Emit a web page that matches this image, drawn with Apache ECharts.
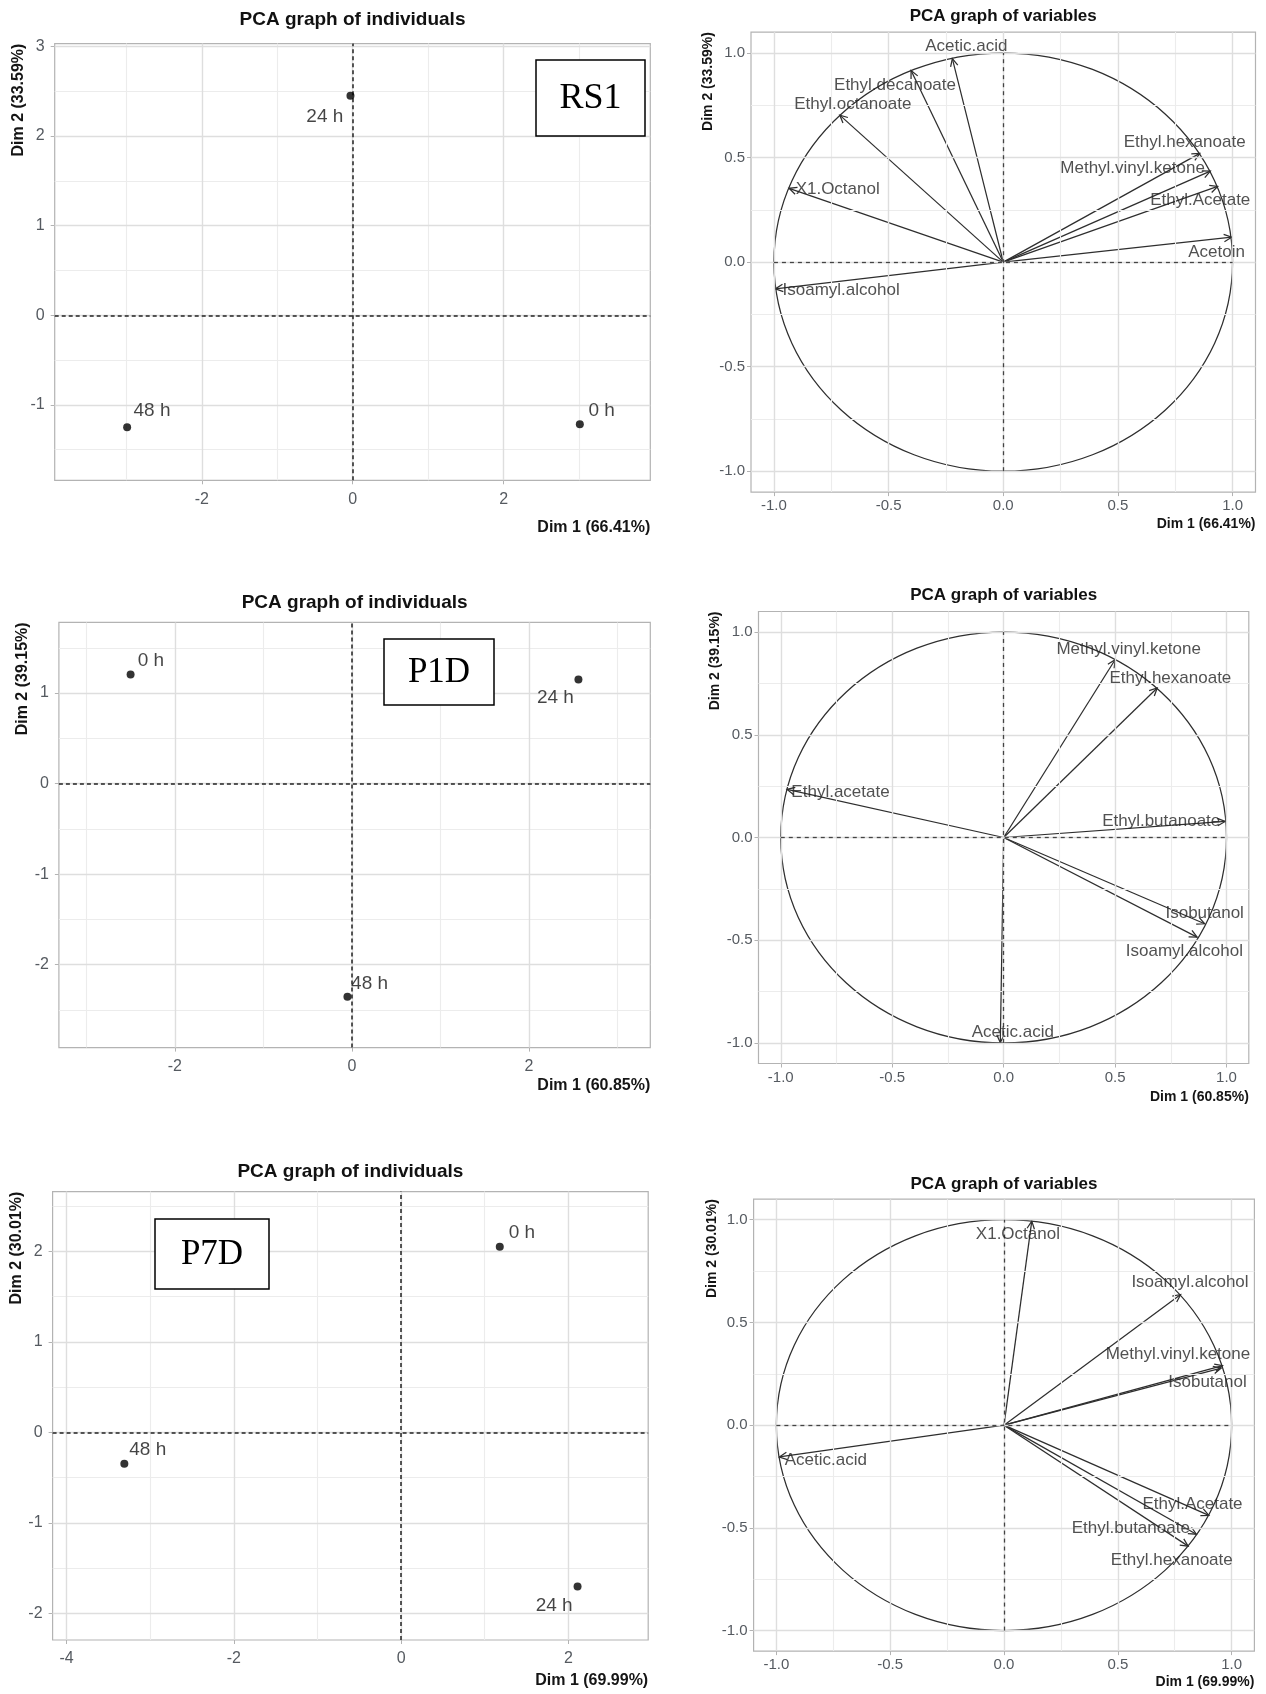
<!DOCTYPE html>
<html>
<head>
<meta charset="utf-8">
<script src="https://cdn.jsdelivr.net/npm/echarts@6/dist/echarts.min.js"></script>
<style>
html,body{margin:0;padding:0;background:#fff;}
#c{width:1266px;height:1694px;}
</style>
</head>
<body>
<div id="c"></div>
<script>
// ---------------- DATA ----------------
const indTitle = 'PCA graph of individuals';
const varTitle = 'PCA graph of variables';
const panelTags = ['RS1', 'P1D', 'P7D'];
const corrCircle = [0, 0, 1]; // centre dim1, centre dim2, radius

// RS1
const rs1Dims = ['Dim 1 (66.41%)', 'Dim 2 (33.59%)'];
const rs1IndNames = ['0 h', '24 h', '48 h'];
const rs1IndDim1 = [3.01, -0.03, -2.99];
const rs1IndDim2 = [-1.215, 2.45, -1.25];
const rs1IndLabelDim1 = [3.30, -0.37, -2.66];
const rs1IndLabelDim2 = [-1.07, 2.21, -1.07];
const rs1IndXTicks = [-2, 0, 2];
const rs1IndXMinor = [-3, -1, 1, 3];
const rs1IndYTicks = [-1, 0, 1, 2, 3];
const rs1IndYMinor = [-1.5, -0.5, 0.5, 1.5, 2.5];
const rs1VarNames = ['Acetic.acid', 'Ethyl.decanoate', 'Ethyl.octanoate', 'X1.Octanol', 'Isoamyl.alcohol', 'Ethyl.hexanoate', 'Methyl.vinyl.ketone', 'Ethyl.Acetate', 'Acetoin'];
const rs1VarDim1 = [-0.222, -0.402, -0.713, -0.934, -0.994, 0.857, 0.903, 0.935, 0.996];
const rs1VarDim2 = [0.973, 0.916, 0.703, 0.353, -0.128, 0.520, 0.435, 0.362, 0.119];
const rs1VarLabelDim1 = [-0.161, -0.472, -0.656, -0.722, -0.707, 0.791, 0.564, 0.859, 0.930];
const rs1VarLabelDim2 = [1.033, 0.846, 0.756, 0.349, -0.137, 0.573, 0.447, 0.294, 0.049];

// P1D
const p1dDims = ['Dim 1 (60.85%)', 'Dim 2 (39.15%)'];
const p1dIndNames = ['0 h', '24 h', '48 h'];
const p1dIndDim1 = [-2.50, 2.56, -0.05];
const p1dIndDim2 = [1.205, 1.15, -2.355];
const p1dIndLabelDim1 = [-2.27, 2.30, 0.20];
const p1dIndLabelDim2 = [1.357, 0.943, -2.207];
const p1dIndXTicks = [-2, 0, 2];
const p1dIndXMinor = [-3, -1, 1, 3];
const p1dIndYTicks = [-2, -1, 0, 1];
const p1dIndYMinor = [-2.5, -1.5, -0.5, 0.5, 1.5];
const p1dVarNames = ['Methyl.vinyl.ketone', 'Ethyl.hexanoate', 'Ethyl.acetate', 'Ethyl.butanoate', 'Isobutanol', 'Isoamyl.alcohol', 'Acetic.acid'];
const p1dVarDim1 = [0.500, 0.689, -0.972, 0.994, 0.902, 0.868, -0.015];
const p1dVarDim2 = [0.865, 0.728, 0.234, 0.078, -0.420, -0.485, -0.998];
const p1dVarLabelDim1 = [0.561, 0.748, -0.732, 0.707, 0.902, 0.811, 0.041];
const p1dVarLabelDim2 = [0.918, 0.776, 0.222, 0.077, -0.371, -0.554, -0.950];

// P7D
const p7dDims = ['Dim 1 (69.99%)', 'Dim 2 (30.01%)'];
const p7dIndNames = ['0 h', '24 h', '48 h'];
const p7dIndDim1 = [1.18, 2.11, -3.31];
const p7dIndDim2 = [2.05, -1.70, -0.345];
const p7dIndLabelDim1 = [1.445, 1.83, -3.03];
const p7dIndLabelDim2 = [2.20, -1.917, -0.19];
const p7dIndXTicks = [-4, -2, 0, 2];
const p7dIndXMinor = [-3, -1, 1];
const p7dIndYTicks = [-2, -1, 0, 1, 2];
const p7dIndYMinor = [-1.5, -0.5, 0.5, 1.5, 2.5];
const p7dVarNames = ['X1.Octanol', 'Isoamyl.alcohol', 'Methyl.vinyl.ketone', 'Isobutanol', 'Acetic.acid', 'Ethyl.Acetate', 'Ethyl.butanoate', 'Ethyl.hexanoate'];
const p7dVarDim1 = [0.122, 0.776, 0.960, 0.954, -0.987, 0.900, 0.845, 0.809];
const p7dVarDim2 = [0.993, 0.636, 0.290, 0.278, -0.155, -0.439, -0.531, -0.589];
const p7dVarLabelDim1 = [0.061, 0.817, 0.764, 0.894, -0.783, 0.828, 0.557, 0.737];
const p7dVarLabelDim2 = [0.929, 0.693, 0.347, 0.207, -0.169, -0.385, -0.500, -0.658];

// variable-plot axes (shared)
const varTicks = [-1, -0.5, 0, 0.5, 1];
const varMinor = [-0.75, -0.25, 0.25, 0.75];

// ---------------- LAYOUT / STYLE ----------------
const SANS = '"Liberation Sans", Arial, sans-serif';
const SERIF = '"Liberation Serif", "Times New Roman", serif';
const GRID_MAJOR = '#dedede';
const GRID_MINOR = '#ececec';
const BORDER = '#b3b3b3';
const TICK_TXT = '#555a60';
const INK = '#151515';
const LINE_INK = '#2e2e2e';

const panels = [
  { kind: 'ind', box: [54.7, 43.6, 650.3, 480.3], x: [-3.95, 3.944], y: [-1.841, 3.032],
    xt: rs1IndXTicks, xm: rs1IndXMinor, yt: rs1IndYTicks, ym: rs1IndYMinor, dims: rs1Dims,
    names: rs1IndNames, d1: rs1IndDim1, d2: rs1IndDim2, l1: rs1IndLabelDim1, l2: rs1IndLabelDim2,
    titleGap: 23.6, dimXGap: 47.7, dimYGap: 35.7, tag: 0, tagBox: [536, 60, 109, 76], tagSize: 36 },
  { kind: 'var', box: [751, 32.1, 1255.5, 492.1], x: [-1.1, 1.1], y: [-1.1, 1.1],
    xt: varTicks, xm: varMinor, yt: varTicks, ym: varMinor, dims: rs1Dims,
    names: rs1VarNames, d1: rs1VarDim1, d2: rs1VarDim2, l1: rs1VarLabelDim1, l2: rs1VarLabelDim2,
    titleGap: 16, dimXGap: 32, dimYGap: 43 },
  { kind: 'ind', box: [58.9, 622.4, 650.3, 1047.6], x: [-3.31, 3.372], y: [-2.916, 1.78],
    xt: p1dIndXTicks, xm: p1dIndXMinor, yt: p1dIndYTicks, ym: p1dIndYMinor, dims: p1dDims,
    names: p1dIndNames, d1: p1dIndDim1, d2: p1dIndDim2, l1: p1dIndLabelDim1, l2: p1dIndLabelDim2,
    titleGap: 19.4, dimXGap: 38.4, dimYGap: 36, tag: 1, tagBox: [384, 639, 110, 66], tagSize: 35 },
  { kind: 'var', box: [758.5, 611.5, 1248.8, 1063.5], x: [-1.1, 1.1], y: [-1.1, 1.1],
    xt: varTicks, xm: varMinor, yt: varTicks, ym: varMinor, dims: p1dDims,
    names: p1dVarNames, d1: p1dVarDim1, d2: p1dVarDim2, l1: p1dVarLabelDim1, l2: p1dVarLabelDim2,
    titleGap: 16.5, dimXGap: 33.5, dimYGap: 43 },
  { kind: 'ind', box: [52.6, 1191.6, 648.2, 1640], x: [-4.168, 2.955], y: [-2.292, 2.66],
    xt: p7dIndXTicks, xm: p7dIndXMinor, yt: p7dIndYTicks, ym: p7dIndYMinor, dims: p7dDims,
    names: p7dIndNames, d1: p7dIndDim1, d2: p7dIndDim2, l1: p7dIndLabelDim1, l2: p7dIndLabelDim2,
    titleGap: 20, dimXGap: 41, dimYGap: 35.6, tag: 2, tagBox: [155, 1219, 114, 70], tagSize: 35 },
  { kind: 'var', box: [753.6, 1199.2, 1254.4, 1651.1], x: [-1.1, 1.1], y: [-1.1, 1.1],
    xt: varTicks, xm: varMinor, yt: varTicks, ym: varMinor, dims: p7dDims,
    names: p7dVarNames, d1: p7dVarDim1, d2: p7dVarDim2, l1: p7dVarLabelDim1, l2: p7dVarLabelDim2,
    titleGap: 14.7, dimXGap: 31, dimYGap: 41.6 }
];

// ---------------- BUILD ----------------
const chart = echarts.init(document.getElementById('c'), null, { renderer: 'canvas', width: 1266, height: 1694 });

const option = {
  animation: false,
  backgroundColor: '#ffffff',
  grid: [], xAxis: [], yAxis: [], series: [],
  graphic: { elements: [] }
};

function txt(x, y, text, st, extra) {
  const style = Object.assign({
    text: text, fill: INK, fontFamily: SANS,
    align: 'center', textAlign: 'center', verticalAlign: 'middle', textVerticalAlign: 'middle'
  }, st || {});
  return Object.assign({ type: 'text', x: x, y: y, z: 100, silent: true, style: style }, extra || {});
}

function arrowItem(params, api) {
  const p0 = api.coord([0, 0]);
  const p1 = api.coord([api.value(0), api.value(1)]);
  const ang = Math.atan2(p1[1] - p0[1], p1[0] - p0[0]);
  const L = 8.5, spread = 0.45;
  const h1 = [p1[0] - L * Math.cos(ang - spread), p1[1] - L * Math.sin(ang - spread)];
  const h2 = [p1[0] - L * Math.cos(ang + spread), p1[1] - L * Math.sin(ang + spread)];
  return {
    type: 'group',
    children: [
      { type: 'line', shape: { x1: p0[0], y1: p0[1], x2: p1[0], y2: p1[1] }, style: { stroke: LINE_INK, lineWidth: 1.25 } },
      { type: 'polyline', shape: { points: [h1, p1, h2] }, style: { stroke: LINE_INK, fill: 'none', lineWidth: 1.25 } }
    ]
  };
}

function circleItem(params, api) {
  const cx = api.value(0), cy = api.value(1), r = api.value(2);
  const c = api.coord([cx, cy]);
  const ex = api.coord([cx + r, cy]);
  const ey = api.coord([cx, cy + r]);
  return {
    type: 'ellipse',
    shape: { cx: c[0], cy: c[1], rx: Math.abs(ex[0] - c[0]), ry: Math.abs(c[1] - ey[1]) },
    style: { stroke: LINE_INK, fill: 'none', lineWidth: 1.25 }
  };
}

panels.forEach((p, i) => {
  const [l, t, r, b] = p.box;
  const isVar = p.kind === 'var';
  const fmt = isVar ? (v => Number(v).toFixed(1)) : (v => String(v));
  const tickFont = isVar ? 15 : 16;

  option.grid.push({ left: l, top: t, width: r - l, height: b - t, show: true,
    backgroundColor: '#ffffff', borderColor: BORDER, borderWidth: 1.2, containLabel: false });

  option.xAxis.push({
    gridIndex: i, type: 'value', min: p.x[0], max: p.x[1],
    axisLine: { show: false, onZero: false },
    axisTick: { show: true, customValues: p.xt, length: 4, lineStyle: { color: BORDER } },
    axisLabel: { customValues: p.xt, formatter: fmt, color: TICK_TXT, fontSize: tickFont, fontFamily: SANS, margin: isVar ? 6.5 : 11 },
    splitLine: { show: false }
  });
  option.yAxis.push({
    gridIndex: i, type: 'value', min: p.y[0], max: p.y[1],
    axisLine: { show: false, onZero: false },
    axisTick: { show: true, customValues: p.yt, length: 4, lineStyle: { color: BORDER } },
    axisLabel: { customValues: p.yt, formatter: fmt, color: TICK_TXT, fontSize: tickFont, fontFamily: SANS, margin: isVar ? 6 : 10 },
    splitLine: { show: false }
  });

  // grid lines (minor then major)
  const gl = [];
  p.xm.forEach(v => gl.push({ xAxis: v, lineStyle: { color: GRID_MINOR, width: 1.1, type: 'solid' } }));
  p.ym.forEach(v => gl.push({ yAxis: v, lineStyle: { color: GRID_MINOR, width: 1.1, type: 'solid' } }));
  p.xt.forEach(v => gl.push({ xAxis: v, lineStyle: { color: GRID_MAJOR, width: 1.4, type: 'solid' } }));
  p.yt.forEach(v => gl.push({ yAxis: v, lineStyle: { color: GRID_MAJOR, width: 1.4, type: 'solid' } }));
  option.series.push({
    type: 'scatter', name: 'grid' + i, xAxisIndex: i, yAxisIndex: i, data: [], silent: true, z: 1,
    markLine: { silent: true, symbol: ['none', 'none'], animation: false, label: { show: false },
      emphasis: { disabled: true }, data: gl }
  });

  // zero reference lines
  const zeroStyle = isVar
    ? { color: '#444444', width: 1.3, type: [4, 4] }
    : { color: '#222222', width: 1.5, type: [4, 3] };
  const zl = isVar
    ? [[{ coord: [-corrCircle[2], 0] }, { coord: [corrCircle[2], 0] }], [{ coord: [0, -corrCircle[2]] }, { coord: [0, corrCircle[2]] }]]
    : [{ xAxis: 0 }, { yAxis: 0 }];
  option.series.push({
    type: 'scatter', name: 'zero' + i, xAxisIndex: i, yAxisIndex: i, data: [], silent: true, z: 2,
    markLine: { silent: true, symbol: ['none', 'none'], animation: false, label: { show: false },
      emphasis: { disabled: true }, lineStyle: zeroStyle, data: zl }
  });

  if (isVar) {
    option.series.push({
      type: 'custom', name: 'circle' + i, xAxisIndex: i, yAxisIndex: i, z: 3, silent: true,
      renderItem: circleItem, data: [corrCircle]
    });
    option.series.push({
      type: 'custom', name: 'arrows' + i, xAxisIndex: i, yAxisIndex: i, z: 4, silent: true,
      renderItem: arrowItem, data: p.d1.map((v, k) => [v, p.d2[k]])
    });
    option.series.push({
      type: 'scatter', name: 'varLabels' + i, xAxisIndex: i, yAxisIndex: i, z: 5, silent: true,
      symbol: 'circle', symbolSize: 1, itemStyle: { color: 'rgba(0,0,0,0)' },
      label: { show: true, position: 'inside', formatter: '{b}', color: '#262626', fontSize: 17, fontFamily: SANS },
      data: p.names.map((n, k) => ({ name: n, value: [p.l1[k], p.l2[k]] }))
    });
  } else {
    option.series.push({
      type: 'scatter', name: 'ind' + i, xAxisIndex: i, yAxisIndex: i, z: 5, silent: true,
      symbol: 'circle', symbolSize: 8, itemStyle: { color: '#000000' },
      data: p.names.map((n, k) => ({ name: n, value: [p.d1[k], p.d2[k]] }))
    });
    option.series.push({
      type: 'scatter', name: 'indLabels' + i, xAxisIndex: i, yAxisIndex: i, z: 5, silent: true,
      symbol: 'circle', symbolSize: 1, itemStyle: { color: 'rgba(0,0,0,0)' },
      label: { show: true, position: 'inside', formatter: '{b}', color: '#151515', fontSize: 19, fontFamily: SANS },
      data: p.names.map((n, k) => ({ name: n, value: [p.l1[k], p.l2[k]] }))
    });
  }

  // titles and axis names
  const titleSize = isVar ? 17 : 19;
  const dimSize = isVar ? 14 : 16;
  option.graphic.elements.push(txt((l + r) / 2, t - p.titleGap, isVar ? varTitle : indTitle,
    { fontSize: titleSize, fontWeight: 'bold', fill: '#111111' }));
  option.graphic.elements.push(txt(r, b + p.dimXGap, p.dims[0],
    { fontSize: dimSize, fontWeight: 'bold', align: 'right', textAlign: 'right' }));
  option.graphic.elements.push(txt(l - p.dimYGap, t, p.dims[1],
    { fontSize: dimSize, fontWeight: 'bold', align: 'right', textAlign: 'right' }, { rotation: Math.PI / 2 }));

  if (p.tag !== undefined) {
    const [bx, by, bw, bh] = p.tagBox;
    option.graphic.elements.push({ type: 'rect', z: 100, silent: true,
      shape: { x: bx, y: by, width: bw, height: bh },
      style: { fill: '#ffffff', stroke: '#000000', lineWidth: 1.5 } });
    option.graphic.elements.push(txt(bx + bw / 2, by + bh / 2 + 1, panelTags[p.tag],
      { fontSize: p.tagSize, fontFamily: SERIF, fill: '#000000' }, { z: 101 }));
  }
});

chart.setOption(option);
</script>
</body>
</html>
